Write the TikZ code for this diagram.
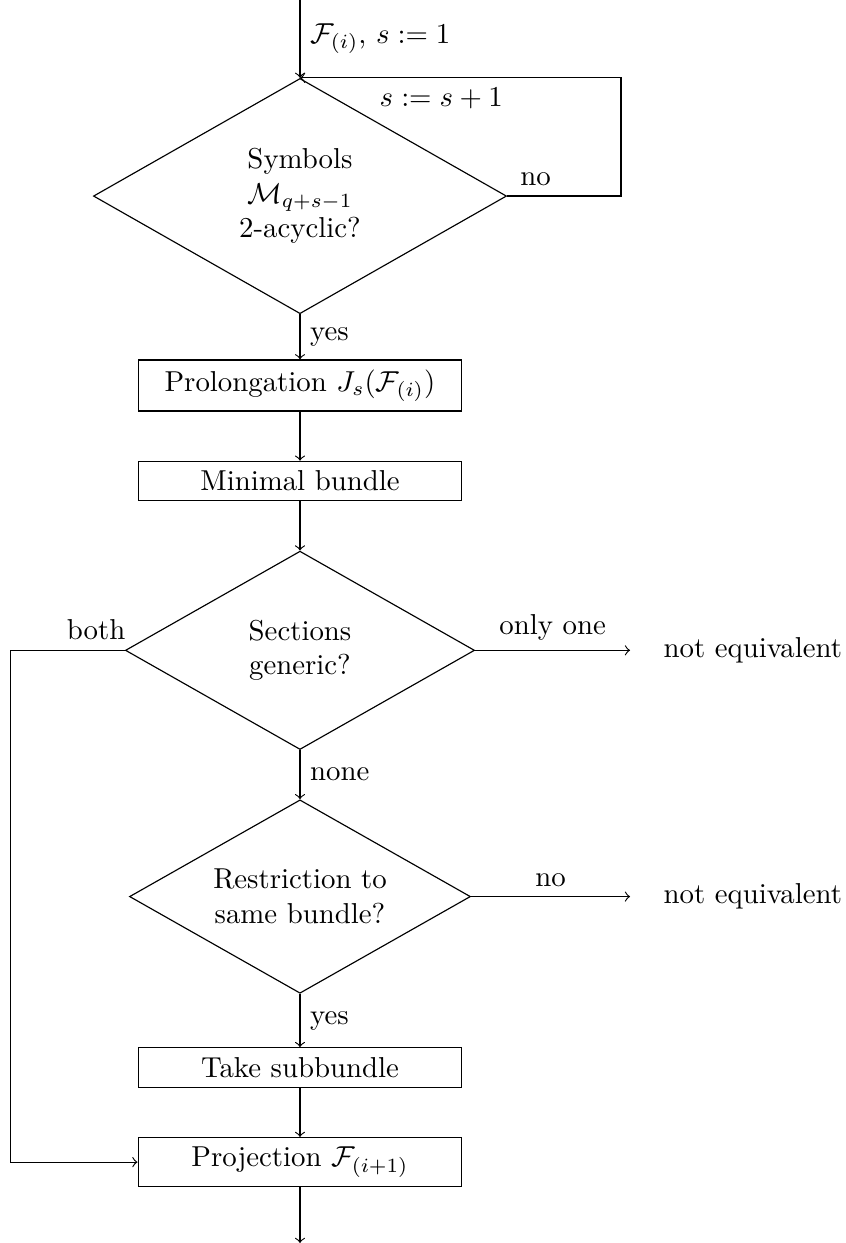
\documentclass[tikz,border=0pt]{standalone}
\usepackage{amsmath,amssymb}
\usetikzlibrary{shapes.geometric,positioning}

\begin{document}
\begin{tikzpicture}[node distance=0.6cm,
  block/.style={draw,minimum width=3.95cm,align=center},
  decide/.style={draw,diamond,aspect=1.75,inner sep=1pt,align=center},
  result/.style={outer sep=8.3pt}]
  \node[decide,minimum width=5.04cm,minimum height=2.87cm] (sym) {Symbols\\$\mathcal{M}_{q+s-1}$\\2-acyclic?};
  \coordinate[above=0.95cm of sym] (in);
  \node[block,below=0.55cm of sym] (prol) {Prolongation $J_s(\mathcal{F}_{(i)})$};
  \node[block,below=of prol] (minb) {Minimal bundle};
  \node[decide,below=of minb,minimum width=4.26cm,minimum height=2.42cm] (sec) {Sections\\generic?};
  \node[decide,below=of sec,minimum width=4.16cm,minimum height=2.36cm] (restr) {Restriction to\\same bundle?};
  \node[block,below=0.65cm of restr] (sub) {Take subbundle};
  \node[block,below=of sub] (proj) {Projection $\mathcal{F}_{(i+1)}$};
  \coordinate[below=0.68cm of proj] (out);
  \node[result,right=1.89cm of sec] (neq1) {not equivalent};
  \node[result] (neq2) at (neq1 |- restr) {not equivalent};
  \draw[->] (in) -- (sym) node[midway,right] {$\mathcal{F}_{(i)}$, $s:=1$};
  \draw[->] (sym.east) -- node[above,near start] {no} ++(1.39cm,0) |- node[pos=0.78,below] {$s:=s+1$} (sym.north);
  \draw[->] (sym) -- (prol) node[midway,right] {yes};
  \draw[->] (prol) -- (minb);
  \draw[->] (minb) -- (sec);
  \draw[->] (sec) -- (neq1) node[midway,above] {only one};
  \draw[->] (sec.west) -- node[above,near start] {both} ++(-1.4cm,0) |- (proj.west);
  \draw[->] (sec) -- (restr) node[midway,right] {none};
  \draw[->] (restr) -- (neq2) node[midway,above] {no};
  \draw[->] (restr) -- (sub) node[midway,right] {yes};
  \draw[->] (sub) -- (proj);
  \draw[->] (proj) -- (out);
  \pgfresetboundingbox
  \useasboundingbox ([xshift=-3.66cm]in) rectangle ([xshift=6.65cm]out);
\end{tikzpicture}
\end{document}
